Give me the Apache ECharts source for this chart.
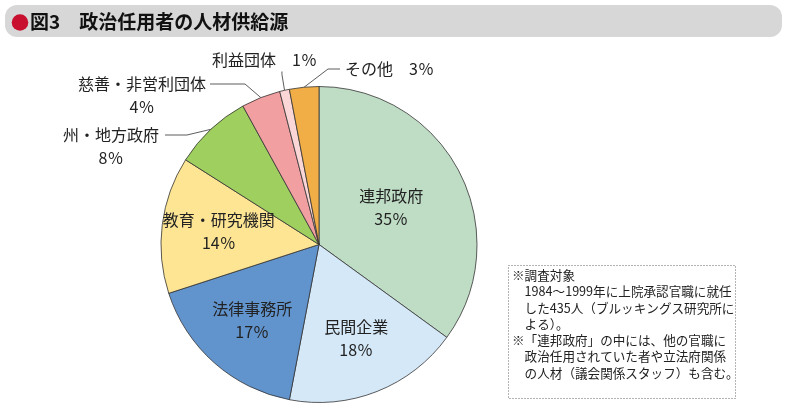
<!DOCTYPE html>
<html><head><meta charset="utf-8">
<script src="https://cdn.jsdelivr.net/npm/echarts@6/dist/echarts.min.js"></script>
<style>html,body{margin:0;padding:0;background:#fff}#c{width:787px;height:410px}</style>
</head><body><div id="c"></div>
<script>
// ---- data ----
const categories = ['連邦政府','民間企業','法律事務所','教育・研究機関','州・地方政府','慈善・非営利団体','利益団体','その他'];
const values = [35, 18, 17, 14, 8, 4, 1, 3];
const titleText = '図3　政治任用者の人材供給源';
const noteLines = [
  '※調査対象',
  '　1984～1999年に上院承認官職に就任',
  '　した435人（ブルッキングス研究所に',
  '　よる）。',
  '※「連邦政府」の中には、他の官職に',
  '　政治任用されていた者や立法府関係',
  '　の人材（議会関係スタッフ）も含む。'
];

// ---- styles ----
const colors = ['#bfdcc5','#d5e8f8','#6193cd','#fde594','#9fcf5e','#f29fa1','#fbd6d6','#f2ae46'];
const FONT = '"Noto Sans CJK JP", sans-serif';
const CX = 319, CY = 244.5, R = 158;
const insideRadius = [81, 101, 101, 101];
// outside label configs (index -> style/layout)
const outside = {
  4: {x: 114, y: 135 - 11.5 - 23, align: 'center', two: true, padding: [23, 6, 0, 0], len2: 22},
  5: {x: 144, y: 84 - 11.5 - 23, align: 'center', two: true, padding: [23, 4, 0, 0], len2: 35},
  6: {x: 212, y: 60, align: 'left', two: false, padding: [0, 35, 0, 0], len2: 3},
  7: {x: 345, y: 69, align: 'left', two: false, padding: [0, 0, 0, 5], len2: 12}
};

const data = categories.map((name, i) => {
  const item = {name, value: values[i], itemStyle: {color: colors[i]}};
  const o = outside[i];
  if (o) {
    item.label = {
      position: 'outside',
      formatter: o.two ? '{b}\n{c}％' : '{b}　{c}％',
      padding: o.padding,
      backgroundColor: 'rgba(0,0,0,0)',
      align: o.align
    };
    item.labelLine = {show: true, length: 10, length2: o.len2};
  } else {
    item.label = {position: 'inside', formatter: '{b}\n{c}％'};
  }
  return item;
});

const chart = echarts.init(document.getElementById('c'), null, {renderer: 'canvas'});
chart.setOption({
  animation: false,
  textStyle: {fontFamily: FONT},
  title: {
    text: titleText, left: 30, top: 12, padding: 0,
    textStyle: {fontFamily: FONT, fontSize: 19, fontWeight: 'bold', color: '#111'}
  },
  graphic: [
    {type: 'rect', z: -10, shape: {x: 5, y: 5, width: 777, height: 32, r: 12}, style: {fill: '#d7d7d7'}},
    {type: 'circle', z: 10, shape: {cx: 20, cy: 22.5, r: 8.3}, style: {fill: '#c8102e'}},
    {type: 'rect', shape: {x: 508.5, y: 265.5, width: 227, height: 133}, style: {fill: '#fff', stroke: '#666', lineWidth: 1, lineDash: [1, 2]}},
    {type: 'text', x: 512, y: 267, style: {text: noteLines.join('\n'), font: '12.6px ' + FONT, lineHeight: 16.3, fill: '#222'}}
  ],
  series: [{
    type: 'pie',
    center: [CX, CY],
    radius: [0, R],
    startAngle: 90,
    clockwise: true,
    avoidLabelOverlap: false,
    itemStyle: {borderColor: '#333', borderWidth: 0.8},
    label: {fontSize: 16, lineHeight: 23, color: '#222', fontFamily: FONT},
    labelLine: {lineStyle: {color: '#333', width: 0.8}},
    emphasis: {disabled: true},
    data: data,
    labelLayout: function (p) {
      const i = p.dataIndex;
      const o = outside[i];
      if (o) {
        return {x: o.x - (o.align === 'left' ? o.padding[3] : 0), y: o.y, align: o.align, verticalAlign: o.two ? 'top' : 'middle'};
      }
      const r = p.labelRect;
      const lx = r.x + r.width / 2, ly = r.y + r.height / 2;
      const vx = lx - CX, vy = ly - CY;
      const L = Math.sqrt(vx * vx + vy * vy) || 1;
      const k = insideRadius[i] / L;
      return {dx: vx * k - vx, dy: vy * k - vy};
    }
  }]
});
</script>
</body></html>
